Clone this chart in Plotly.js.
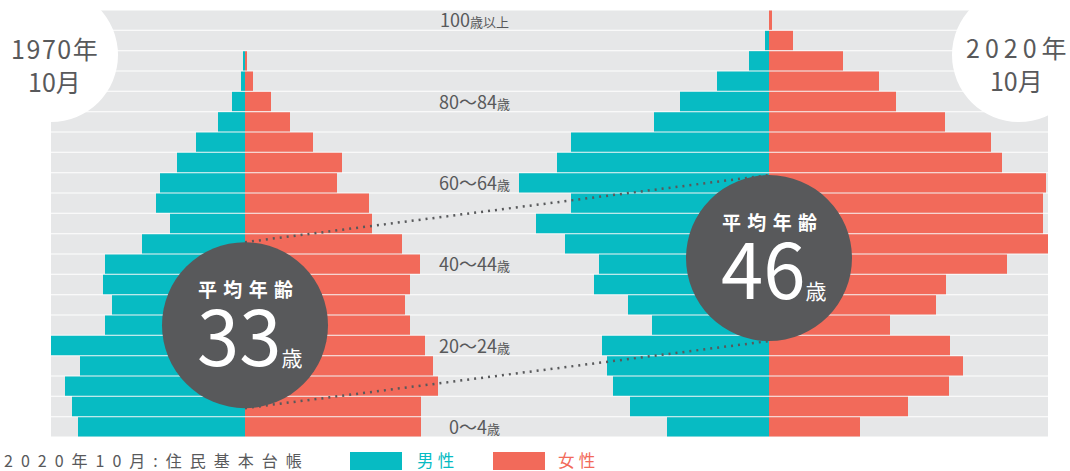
<!DOCTYPE html>
<html><head><meta charset="utf-8">
<script src="https://cdn.plot.ly/plotly-3.0.1.min.js"></script>
<style>html,body{margin:0;padding:0;background:#fff}#chart{width:1070px;height:471px}</style>
</head><body><div id="chart"></div>
<script>
// ---- data (relative scale) ----
const ageGroups = ['0〜4','5〜9','10〜14','15〜19','20〜24','25〜29','30〜34','35〜39','40〜44','45〜49',
  '50〜54','55〜59','60〜64','65〜69','70〜74','75〜79','80〜84','85〜89','90〜94','95〜99','100以上'];
const male1970   = [167,173,180,165,194,140,133,142,140,103,75,89,85,68,49,27,13,4,2,0,0];
const female1970 = [176,176,193,188,180,165,160,165,175,157,127,124,92,97,68,45,26,8,2,0,0];
const male2020   = [102,139,156,162,167,117,141,175,170,204,233,198,250,212,198,115,89,52,20,4,0];
const female2020 = [91,139,180,194,181,121,167,177,238,279,274,274,277,233,222,176,127,110,74,24,3];
const tickIdx   = [0,4,8,12,16,20];
const tickNums  = ['0〜4','20〜24','40〜44','60〜64','80〜84','100'];
const tickUnits = ['歳','歳','歳','歳','歳','歳以上'];
const years = ['1970年','2020年'];
const monthLabel = '10月';
const avgLabel = '平均年齢';
const avgAges = [33, 46];
const ageUnit = '歳';
const sourceText = '2020年10月:住民基本台帳';
const sexNames = ['男性','女性'];

// ---- styles / layout helpers ----
const TEAL='#07BBC3', RED='#F26A5A', GREY='#E6E7E8', DARK='#58595B', TXT='#58595B';
const FONT='Noto Sans CJK JP, Noto Sans, sans-serif';
const W=1070, H=471, M={l:51,r:22,t:10,b:34};
const PW=W-M.l-M.r, PH=H-M.t-M.b;
const split = 429/PW;
const r1=[-194,235], r2=[-289,279];
const px2x = px => (px-M.l)/PW;
const px2y = py => (H-M.b-py)/PH;
const ppu = PH/ageGroups.length;
const zero1 = split*(0-r1[0])/(r1[1]-r1[0]);
const zero2 = split + (1-split)*(0-r2[0])/(r2[1]-r2[0]);
const sp = (s,ch) => s.split('').join(ch);

const neg = a => a.map(v=>-v);
const barBase = {type:'bar', orientation:'h', y:ageGroups, hoverinfo:'skip', marker:{line:{width:0}}};
const traces = [
  Object.assign({}, barBase, {x:neg(male1970), xaxis:'x', yaxis:'y', marker:{color:TEAL}, name:sexNames[0]}),
  Object.assign({}, barBase, {x:female1970, xaxis:'x', yaxis:'y', marker:{color:RED}, name:sexNames[1]}),
  Object.assign({}, barBase, {x:neg(male2020), xaxis:'x2', yaxis:'y', marker:{color:TEAL}, name:sexNames[0]}),
  Object.assign({}, barBase, {x:female2020, xaxis:'x2', yaxis:'y', marker:{color:RED}, name:sexNames[1]})
];

const shapes = [];
ageGroups.forEach((g,i)=>{
  shapes.push({type:'rect', xref:'paper', yref:'y', x0:0, x1:1, y0:i-0.475, y1:i+0.475,
    fillcolor:GREY, line:{width:0}, layer:'below'});
});
// white year circles
[[51,55],[1019,55]].forEach(c=>{
  shapes.push({type:'circle', xref:'paper', yref:'paper', xsizemode:'pixel', ysizemode:'pixel',
    xanchor:px2x(c[0]), yanchor:px2y(c[1]), x0:-67, x1:67, y0:-67, y1:67,
    fillcolor:'#fff', line:{width:0}, layer:'below'});
});
const R=83;
const c1y=5.0, c2y=8.3;
// dotted connectors
[[c1y+R/ppu, c2y+R/ppu],[c1y-R/ppu, c2y-R/ppu]].forEach(p=>{
  shapes.push({type:'line', xref:'paper', yref:'y', x0:zero1, x1:zero2, y0:p[0], y1:p[1],
    line:{color:DARK, width:2.5, dash:'2px,5px'}, layer:'above'});
});
// dark average-age circles
[['x',c1y],['x2',c2y]].forEach(c=>{
  shapes.push({type:'circle', xref:c[0], yref:'y', xsizemode:'pixel', ysizemode:'pixel',
    xanchor:0, yanchor:c[1], x0:-R, x1:R, y0:-R, y1:R, fillcolor:DARK, line:{width:0}, layer:'above'});
});
// legend boxes
shapes.push({type:'rect', xref:'paper', yref:'paper', x0:px2x(350), x1:px2x(402), y0:px2y(470), y1:px2y(452), fillcolor:TEAL, line:{width:0}});
shapes.push({type:'rect', xref:'paper', yref:'paper', x0:px2x(493), x1:px2x(545), y0:px2y(470), y1:px2y(452), fillcolor:RED, line:{width:0}});

const ann = [];
tickIdx.forEach((idx,j)=>{
  ann.push({xref:'paper', yref:'y', x:px2x(474), y:idx, yshift:1, xanchor:'center', yanchor:'middle', showarrow:false,
    text: tickNums[j] + "<span style='font-size:13px'>" + tickUnits[j] + "</span>",
    font:{family:FONT, size:18, color:TXT}});
});
// year labels
ann.push({xref:'paper', yref:'paper', x:px2x(54), y:px2y(64), xanchor:'center', yanchor:'middle', showarrow:false, align:'center',
  text: sp(years[0],'\u200A') + '<br>' + monthLabel, font:{family:FONT, size:25, color:TXT}});
ann.push({xref:'paper', yref:'paper', x:px2x(1016), y:px2y(63.5), xanchor:'center', yanchor:'middle', showarrow:false, align:'center',
  text: sp(years[1],'\u2009') + '<br>' + monthLabel, font:{family:FONT, size:25, color:TXT}});
// average-age text
[['x',c1y,avgAges[0]],['x2',c2y,avgAges[1]]].forEach(c=>{
  ann.push({xref:c[0], yref:'y', x:0, y:c[1], yshift:37, xanchor:'center', yanchor:'middle', showarrow:false,
    borderpad:0, text: sp(avgLabel,'\u2004'), font:{family:FONT, size:19, color:'#fff', weight:'bold'}});
  ann.push({xref:c[0], yref:'y', x:0, y:c[1], yshift:-8, xshift:4, xanchor:'center', yanchor:'middle', showarrow:false,
    borderpad:0, height:72, valign:'middle',
    text: String(c[2]) + "<span style='font-size:21px'>" + ageUnit + "</span>", font:{family:FONT, size:76, color:'#fff'}});
});
// source + legend texts
ann.push({xref:'paper', yref:'paper', x:px2x(3), y:px2y(460), xanchor:'left', yanchor:'middle', showarrow:false, borderpad:0,
  text: sp(sourceText,'\u2002'), font:{family:FONT, size:16, color:TXT}});
ann.push({xref:'paper', yref:'paper', x:px2x(416), y:px2y(460), xanchor:'left', yanchor:'middle', showarrow:false, borderpad:0,
  text: sp(sexNames[0],'\u2005'), font:{family:FONT, size:16.5, color:TEAL}});
ann.push({xref:'paper', yref:'paper', x:px2x(557), y:px2y(460), xanchor:'left', yanchor:'middle', showarrow:false, borderpad:0,
  text: sp(sexNames[1],'\u2005'), font:{family:FONT, size:16.5, color:RED}});

const axBase = {showgrid:false, zeroline:false, showticklabels:false, showline:false, ticks:'', fixedrange:true};
const layout = {
  width:W, height:H, margin:M, showlegend:false, barmode:'relative', bargap:0.05,
  paper_bgcolor:'#fff', plot_bgcolor:'rgba(0,0,0,0)',
  xaxis: Object.assign({}, axBase, {domain:[0,split], range:r1, anchor:'y'}),
  xaxis2: Object.assign({}, axBase, {domain:[split,1], range:r2, anchor:'y'}),
  yaxis: Object.assign({}, axBase, {type:'category', categoryarray:ageGroups, categoryorder:'array', range:[-0.5,ageGroups.length-0.5]}),
  shapes: shapes, annotations: ann, font:{family:FONT}
};
Plotly.newPlot('chart', traces, layout, {staticPlot:true, displayModeBar:false});
</script></body></html>
